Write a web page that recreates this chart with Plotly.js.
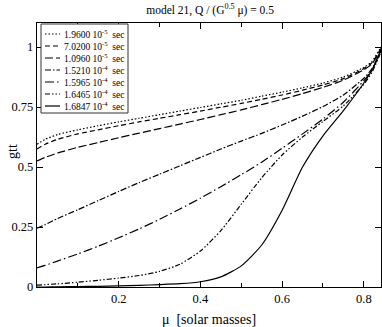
<!DOCTYPE html>
<html>
<head>
<meta charset="utf-8">
<script src="https://cdn.plot.ly/plotly-3.0.1.min.js"></script>
<style>
  html, body { margin: 0; padding: 0; background: #fff; }
  #graphDiv { width: 382px; height: 327px; }
</style>
</head>
<body>
<div id="graphDiv"></div>
<script>
// mass grid
var mu = [0, 0.02, 0.05, 0.1, 0.15, 0.2, 0.25, 0.3, 0.35, 0.4, 0.45, 0.5, 0.55, 0.6, 0.65, 0.7, 0.75, 0.8, 0.82, 0.842];

var g1 = [0.595, 0.615, 0.635, 0.655, 0.672, 0.688, 0.703, 0.718, 0.733, 0.748, 0.763, 0.778, 0.795, 0.812, 0.83, 0.85, 0.875, 0.915, 0.94, 1.0];
var g2 = [0.575, 0.595, 0.615, 0.638, 0.655, 0.672, 0.688, 0.703, 0.718, 0.733, 0.749, 0.765, 0.782, 0.8, 0.82, 0.842, 0.868, 0.91, 0.935, 0.995];
var g3 = [0.525, 0.54, 0.558, 0.582, 0.602, 0.622, 0.641, 0.66, 0.679, 0.698, 0.718, 0.738, 0.76, 0.782, 0.806, 0.832, 0.862, 0.905, 0.93, 0.99];
var g4 = [0.245, 0.26, 0.285, 0.322, 0.36, 0.398, 0.435, 0.47, 0.505, 0.54, 0.575, 0.608, 0.64, 0.675, 0.712, 0.752, 0.8, 0.87, 0.91, 0.985];
var g5 = [0.08, 0.09, 0.108, 0.138, 0.17, 0.205, 0.242, 0.282, 0.325, 0.37, 0.418, 0.468, 0.52, 0.578, 0.638, 0.7, 0.77, 0.86, 0.905, 0.98];
var g6 = [0.008, 0.01, 0.013, 0.02, 0.028, 0.037, 0.048, 0.065, 0.095, 0.15, 0.235, 0.345, 0.455, 0.55, 0.625, 0.69, 0.755, 0.845, 0.895, 0.98];
var g7 = [0.0, 0.0, 0.001, 0.002, 0.003, 0.005, 0.007, 0.01, 0.014, 0.022, 0.042, 0.088, 0.175, 0.32, 0.5, 0.63, 0.735, 0.85, 0.905, 0.99];

var times = ['1.9600 10<sup>-5</sup>', '7.0200 10<sup>-5</sup>', '1.0960 10<sup>-5</sup>', '1.5210 10<sup>-4</sup>',
             '1.5965 10<sup>-4</sup>', '1.6465 10<sup>-4</sup>', '1.6847 10<sup>-4</sup>'];

var series = [g1, g2, g3, g4, g5, g6, g7];
var dashes = ['1.5px,2px', '5px,3px', '8px,3px', '6px,2px,1.5px,2px', '9px,3px,1.5px,3px',
              '5px,2px,1.5px,2px,1.5px,2px', 'solid'];

var serif = '"Liberation Serif", "Times New Roman", Times, serif';

var data = [];
for (var i = 0; i < series.length; i++) {
  data.push({
    x: mu,
    y: series[i],
    type: 'scatter',
    mode: 'lines',
    name: times[i] + ' sec',
    showlegend: false,
    line: { color: '#000', width: 1.2, dash: dashes[i], shape: 'spline', smoothing: 0.6 }
  });
}

// hand-made legend box (plotly's own legend rows are too tall)
var plotW = 344, plotH = 264;
function px(xp) { return (xp - 37) / plotW; }
function py(yp) { return (287 - yp) / plotH; }

var shapes = [{
  type: 'rect', xref: 'paper', yref: 'paper',
  x0: px(41), x1: px(128), y0: py(113), y1: py(24),
  line: { color: '#333', width: 1 }, fillcolor: '#fff', layer: 'above'
}];
var annotations = [];
for (var k = 0; k < times.length; k++) {
  var rowY = py(34 + 12 * k);
  shapes.push({
    type: 'line', xref: 'paper', yref: 'paper',
    x0: px(45), x1: px(60), y0: rowY, y1: rowY,
    line: { color: '#000', width: 1.2, dash: dashes[k] }, layer: 'above'
  });
  annotations.push({
    xref: 'paper', yref: 'paper', x: px(62), y: rowY,
    xanchor: 'left', yanchor: 'middle', showarrow: false,
    text: times[k] + '\u00a0\u00a0sec',
    font: { family: serif, size: 9.5, color: '#000' }
  });
}
annotations.push({
  xref: 'paper', yref: 'paper', x: px(12), y: py(152),
  xanchor: 'center', yanchor: 'middle', showarrow: false, textangle: -90,
  text: 'gtt', font: { family: serif, size: 14, color: '#000' }
});

var layout = {
  width: 382,
  height: 327,
  margin: { l: 37, r: 1, t: 23, b: 40 },
  paper_bgcolor: '#fff',
  plot_bgcolor: '#fff',
  font: { family: serif, color: '#000', size: 12 },
  title: {
    text: 'model 21, Q / (G<sup>0.5</sup> \u03bc) = 0.5',
    font: { family: serif, size: 11.5, color: '#000' },
    x: 0.55, xanchor: 'center', y: 0.97, yanchor: 'middle'
  },
  showlegend: false,
  shapes: shapes,
  annotations: annotations,
  xaxis: {
    range: [0, 0.842],
    title: { text: '\u03bc  [solar masses]', font: { family: serif, size: 14 }, standoff: 9 },
    tickvals: [0.2, 0.4, 0.6, 0.8],
    ticktext: ['0.2', '0.4', '0.6', '0.8'],
    ticks: 'inside', ticklen: 6, tickwidth: 1, tickcolor: '#000',
    minor: { tickvals: [0.1, 0.3, 0.5, 0.7], ticks: 'inside', ticklen: 4, tickcolor: '#000' },
    showline: true, linecolor: '#000', linewidth: 1.2, mirror: 'ticks',
    showgrid: false, zeroline: false,
    tickfont: { family: serif, size: 12.5 }
  },
  yaxis: {
    range: [0, 1.1],
    tickvals: [0, 0.25, 0.5, 0.75, 1],
    ticktext: ['0', '0.25', '0.5', '0.75', '1'],
    ticks: 'inside', ticklen: 6, tickwidth: 1, tickcolor: '#000',
    showline: true, linecolor: '#000', linewidth: 1.2, mirror: 'ticks',
    showgrid: false, zeroline: false,
    tickfont: { family: serif, size: 12.5 }
  }
};

Plotly.newPlot('graphDiv', data, layout, { staticPlot: true, displayModeBar: false });
</script>
</body>
</html>
